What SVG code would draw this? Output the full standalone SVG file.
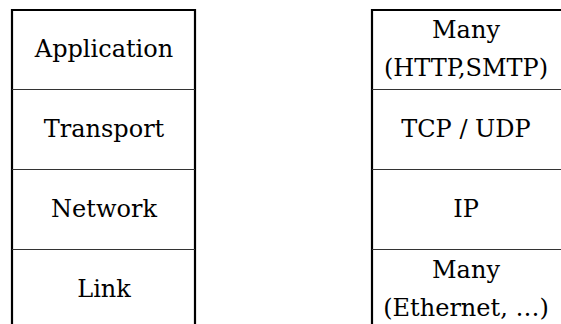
<svg xmlns="http://www.w3.org/2000/svg" width="561" height="324" viewBox="0 0 561 324">
<style>
.frame{fill:none;stroke:#000;stroke-width:2.2}
.div{stroke:#333;stroke-width:1.2}
text{font-family:"DejaVu Serif","Liberation Serif",serif;font-size:24px;fill:#000;text-anchor:middle}
</style>
<rect width="561" height="324" fill="#fff"/>
<g id="left-stack">
<path class="frame" d="M12,330 V10 H195 V330"/>
</g>
<g id="right-stack">
<path class="frame" d="M372,330 V10 H570"/>
</g>
<g id="connectors">
<line class="div" x1="12" y1="89.5" x2="195" y2="89.5"/>
<line class="div" x1="12" y1="169.5" x2="195" y2="169.5"/>
<line class="div" x1="12" y1="249.5" x2="195" y2="249.5"/>
<line class="div" x1="372" y1="89.5" x2="561" y2="89.5"/>
<line class="div" x1="372" y1="169.5" x2="561" y2="169.5"/>
<line class="div" x1="372" y1="249.5" x2="561" y2="249.5"/>
</g>
<g id="application"><text x="104" y="57">Application</text></g>
<g id="transport"><text x="104" y="137">Transport</text></g>
<g id="network"><text x="104" y="217">Network</text></g>
<g id="link"><text x="104" y="297">Link</text></g>
<g id="many-app"><text x="466" y="38">Many</text><text x="466" y="76">(HTTP,SMTP)</text></g>
<g id="tcp-udp"><text x="466" y="137">TCP / UDP</text></g>
<g id="ip"><text x="466" y="217">IP</text></g>
<g id="many-link"><text x="466" y="278">Many</text><text x="466" y="316">(Ethernet, …)</text></g>
</svg>
